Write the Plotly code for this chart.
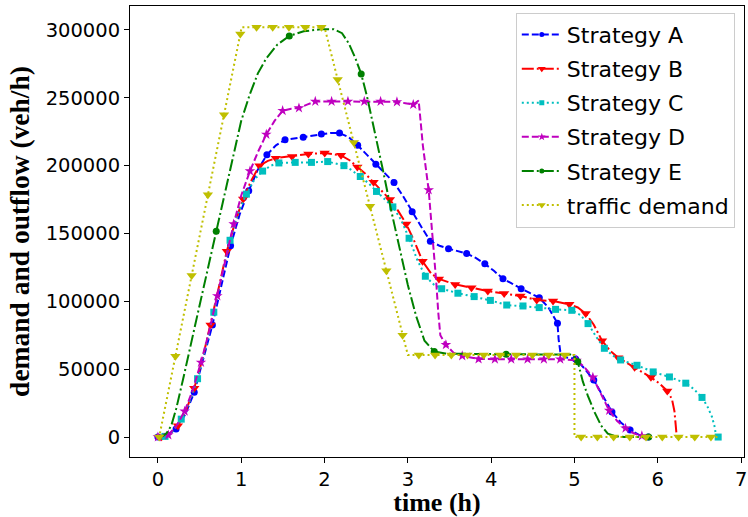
import plotly.graph_objects as go

# ---------------- data (time in h, flow in veh/h, m = 1 where a marker is drawn) -------------
A_t = [0.0, 0.109, 0.218, 0.327, 0.436, 0.545, 0.654, 0.763, 0.872, 0.981, 1.09, 1.199, 1.308, 1.417,
       1.526, 1.635, 1.744, 1.853, 1.962, 2.071, 2.18, 2.289, 2.398, 2.507, 2.616, 2.725, 2.834, 2.943,
       3.052, 3.161, 3.27, 3.379, 3.488, 3.597, 3.706, 3.815, 3.924, 4.033, 4.142, 4.251, 4.36, 4.469,
       4.578, 4.687, 4.796, 4.81, 4.83, 4.88, 5.014, 5.12, 5.232, 5.34, 5.45, 5.56, 5.668, 5.78, 5.886]
A_v = [0, 1500, 5900, 16500, 33000, 57000, 82500, 112000, 141000, 164000, 181500, 197000, 208000, 215000,
       219000, 220000, 221000, 222000, 223300, 224000, 224000, 221000, 215000, 208000, 201000, 194000, 187500, 177500,
       166000, 155000, 144300, 141000, 138800, 137000, 135300, 132000, 127700, 122500, 116700, 113000, 109300, 106000,
       102700, 95500, 83800, 72000, 63000, 59000, 57500, 50500, 42000, 30000, 18500, 10500, 5200, 1500, 0]
A_m = [1, 0, 1, 0, 1, 0, 1, 0, 1, 0, 1, 0, 1, 0,
       1, 0, 1, 0, 1, 0, 1, 0, 1, 0, 1, 0, 1, 0,
       1, 0, 1, 0, 1, 0, 1, 0, 1, 0, 1, 0, 1, 0,
       1, 0, 1, 0, 0, 0, 1, 0, 1, 0, 1, 0, 1, 0, 1]

B_t = [0.0, 0.044, 0.14, 0.24, 0.34, 0.436, 0.535, 0.632, 0.73, 0.827, 0.93, 1.023, 1.12, 1.219, 1.32,
       1.415, 1.61, 1.806, 2.002, 2.198, 2.3, 2.394, 2.49, 2.589, 2.69, 2.785, 2.88, 2.981, 3.08, 3.177,
       3.28, 3.373, 3.568, 3.764, 3.96, 4.156, 4.352, 4.547, 4.743, 4.939, 5.04, 5.135, 5.23, 5.331, 5.43,
       5.526, 5.62, 5.722, 5.82, 5.918, 6.02, 6.114, 6.17, 6.2, 6.215, 6.228]
B_v = [0, 300, 2500, 8300, 20000, 36000, 57500, 82500, 110000, 137000, 159000, 175500, 189000, 200000, 203500,
       205500, 206800, 208600, 209300, 207600, 204000, 199000, 194000, 187700, 181500, 175000, 167000, 157000, 144000, 129500,
       120500, 116500, 112500, 110000, 107600, 105800, 103900, 101000, 100200, 97800, 95500, 91000, 83000, 71000, 63500,
       58500, 55000, 51500, 48000, 44000, 39500, 34000, 28000, 19000, 9000, 0]
B_m = [0, 1, 0, 1, 0, 1, 0, 1, 0, 1, 0, 1, 0, 1, 0,
       1, 1, 1, 1, 1, 0, 1, 0, 1, 0, 1, 0, 1, 0, 1,
       0, 1, 1, 1, 1, 1, 1, 1, 1, 1, 0, 1, 0, 1, 0,
       1, 0, 1, 0, 1, 0, 1, 0, 0, 0, 0]

C_t = [0.0, 0.085, 0.18, 0.28, 0.378, 0.476, 0.573, 0.671, 0.77, 0.866, 0.96, 1.062, 1.16, 1.257, 1.355,
       1.452, 1.648, 1.843, 2.038, 2.233, 2.33, 2.429, 2.53, 2.624, 2.72, 2.82, 2.92, 3.015, 3.11, 3.21,
       3.31, 3.406, 3.601, 3.796, 3.991, 4.187, 4.382, 4.577, 4.773, 4.968, 5.07, 5.163, 5.26, 5.359, 5.46,
       5.554, 5.75, 5.945, 6.14, 6.336, 6.43, 6.531, 6.6, 6.65, 6.685, 6.7, 6.725]
C_v = [0, 500, 4500, 13200, 26000, 43000, 66000, 92000, 119000, 145000, 165000, 179000, 190000, 196000, 200000,
       202000, 202400, 202400, 203000, 200000, 196500, 192000, 187000, 181000, 175500, 169600, 160000, 146500, 131000, 118500,
       112500, 109300, 106000, 103500, 100700, 97300, 96600, 95400, 94100, 93400, 90000, 83600, 74000, 65400, 60000,
       56800, 52900, 48000, 44300, 39700, 35500, 29200, 22000, 15000, 7000, 0, 0]
C_m = [0, 1, 0, 1, 0, 1, 0, 1, 0, 1, 0, 1, 0, 1, 0,
       1, 1, 1, 1, 1, 0, 1, 0, 1, 0, 1, 0, 1, 0, 1,
       0, 1, 1, 1, 1, 1, 1, 1, 1, 1, 0, 1, 0, 1, 0,
       1, 1, 1, 1, 1, 0, 1, 0, 0, 0, 0, 1]

D_t = [0.0, 0.125, 0.22, 0.321, 0.42, 0.517, 0.615, 0.713, 0.81, 0.909, 1.0, 1.105, 1.2, 1.301, 1.4,
       1.497, 1.6, 1.693, 1.79, 1.889, 2.085, 2.281, 2.477, 2.673, 2.869, 2.97, 3.065, 3.13, 3.18, 3.25,
       3.31, 3.34, 3.365, 3.39, 3.457, 3.55, 3.653, 3.849, 4.045, 4.241, 4.437, 4.633, 4.829, 5.025, 5.12,
       5.221, 5.32, 5.417, 5.51, 5.613, 5.71, 5.809, 5.9]
D_v = [0, 1500, 8000, 19000, 35000, 55000, 78000, 104000, 130000, 157000, 178000, 196000, 210000, 223000, 233000,
       240500, 242000, 242500, 245000, 247300, 247300, 247300, 247300, 247300, 247000, 246000, 245000, 248000, 215000, 182000,
       140000, 115000, 92000, 75000, 68000, 62000, 59800, 57500, 57400, 57400, 57400, 57400, 57400, 56500, 51500,
       44000, 31000, 19500, 12000, 6500, 2800, 800, 0]
D_m = [1, 1, 0, 1, 0, 1, 0, 1, 0, 1, 0, 1, 0, 1, 0,
       1, 0, 1, 0, 1, 1, 1, 1, 1, 1, 0, 1, 0, 0, 1,
       0, 0, 0, 0, 1, 0, 1, 1, 1, 1, 1, 1, 1, 1, 0,
       1, 0, 1, 0, 1, 0, 1, 0]

E_t = [0.0, 0.05, 0.1, 0.16, 0.22, 0.3, 0.5, 0.70, 0.85, 1.0, 1.1, 1.2, 1.3, 1.43, 1.577,
       1.75, 1.95, 2.11, 2.21, 2.29, 2.37, 2.44, 2.51, 2.6, 2.7, 2.8, 2.9, 3.0, 3.1, 3.2,
       3.317, 3.45, 4.18, 4.95, 5.0, 5.04, 5.1, 5.16, 5.24, 5.32, 5.4, 5.5, 5.6, 5.89]
E_v = [0, 500, 2500, 8300, 21000, 42000, 97000, 151700, 192000, 233000, 252000, 268000, 279000, 289000, 295600,
       299000, 300500, 300500, 297600, 290200, 279200, 267600, 251000, 226000, 197000, 167000, 139000, 112000, 89000, 71000,
       63000, 61500, 61000, 60800, 59000, 55500, 41000, 30500, 18500, 8500, 2500, 500, 0, 0]
E_m = [0, 0, 0, 0, 0, 0, 0, 1, 0, 0, 0, 0, 0, 0, 1,
       0, 0, 0, 0, 0, 0, 1, 0, 0, 0, 0, 0, 0, 0, 0,
       1, 0, 1, 0, 0, 1, 0, 0, 0, 0, 0, 0, 0, 1]

DEM_t = [0.0, 0.015, 0.21, 0.405, 0.60, 0.794, 0.989, 1.005, 1.184, 1.378, 1.573, 1.768, 1.963, 2.0,
         2.158, 2.352, 2.547, 2.742, 2.937, 3.0, 3.132, 3.327, 3.522, 3.716, 3.911, 4.106, 4.301, 4.496,
         4.69, 4.885, 5.0, 5.0, 5.08, 5.275, 5.47, 5.664, 5.859, 6.054, 6.249, 6.444, 6.638, 6.72]
DEM_v = [0, 0, 59500, 119000, 178500, 237500, 297000, 302000, 302000, 302000, 302000, 302000, 302000, 302000,
         263500, 217000, 170000, 122500, 75000, 60500, 60500, 60500, 60500, 60500, 60500, 60500, 60500, 60500,
         60500, 60500, 60500, 0, 0, 0, 0, 0, 0, 0, 0, 0, 0, 0]
DEM_m = [0, 1, 1, 1, 1, 1, 1, 0, 1, 1, 1, 1, 1, 0,
         1, 1, 1, 1, 1, 0, 1, 1, 1, 1, 1, 1, 1, 1,
         1, 1, 0, 0, 1, 1, 1, 1, 1, 1, 1, 1, 1, 0]

names = ["Strategy A", "Strategy B", "Strategy C", "Strategy D", "Strategy E", "traffic demand"]
x_ticks = [0, 1, 2, 3, 4, 5, 6, 7]
y_ticks = [0, 50000, 100000, 150000, 200000, 250000, 300000]

series = [
    (A_t, A_v, A_m, "#0000ff", "7px,3px", "circle", 7),
    (B_t, B_v, B_m, "#ff0000", "12px,3px,2px,3px", "triangle-down", 9),
    (C_t, C_v, C_m, "#00bfbf", "2px,3px", "square", 7),
    (D_t, D_v, D_m, "#bf00bf", "7px,3px", "star", 8),
    (E_t, E_v, E_m, "#008000", "12px,3px,2px,3px", "circle", 7),
    (DEM_t, DEM_v, DEM_m, "#bfbf00", "2px,3px", "triangle-down", 9),
]

fig = go.Figure()
for i, (t, v, m, col, dash, sym, ms) in enumerate(series):
    fig.add_trace(go.Scatter(x=t, y=v, mode="lines", line=dict(color=col, width=2, dash=dash),
                             showlegend=False, hoverinfo="skip"))
    mx = [a for a, f in zip(t, m) if f]
    my = [b for b, f in zip(v, m) if f]
    fig.add_trace(go.Scatter(x=mx, y=my, mode="markers",
                             marker=dict(color=col, symbol=sym, size=ms, line=dict(width=0)),
                             showlegend=False))
for i, (t, v, m, col, dash, sym, ms) in enumerate(series):
    fig.add_trace(go.Scatter(x=[None], y=[None], mode="lines+markers", name=names[i],
                             legendgroup=names[i],
                             line=dict(color=col, width=2, dash=dash),
                             marker=dict(color=col, symbol=sym, size=ms - 2, line=dict(width=0))))

axis_common = dict(showline=True, linecolor="black", linewidth=1, mirror=True,
                   ticks="outside", ticklen=5, tickwidth=1, tickcolor="black",
                   showgrid=False, zeroline=False, ticklabeloverflow="allow",
                   tickfont=dict(family="DejaVu Sans", size=19.5, color="black"))

fig.update_layout(
    width=748, height=517,
    margin=dict(l=130, r=1, t=6, b=59),
    plot_bgcolor="white", paper_bgcolor="white",
    xaxis=dict(range=[-0.335, 7.035], tickmode="array", tickvals=x_ticks,
               ticktext=[str(x) for x in x_ticks],
               title=dict(text="<b>time (h)</b>", standoff=6,
                          font=dict(family="Liberation Serif", size=26, color="black")),
               **axis_common),
    yaxis=dict(range=[-14700, 317650], tickmode="array", tickvals=y_ticks,
               ticktext=[str(y) for y in y_ticks],
               title=dict(text="<b>demand and outflow (veh/h)</b>", standoff=8,
                          font=dict(family="Liberation Serif", size=27.5, color="black")),
               **axis_common),
    legend=dict(x=0.985, y=0.985, xanchor="right", yanchor="top",
                bgcolor="rgba(255,255,255,0.8)", bordercolor="#cccccc", borderwidth=1,
                font=dict(family="DejaVu Sans", size=22, color="black"),
                tracegroupgap=2.5, itemwidth=40),
)

fig.write_html("out.html")
